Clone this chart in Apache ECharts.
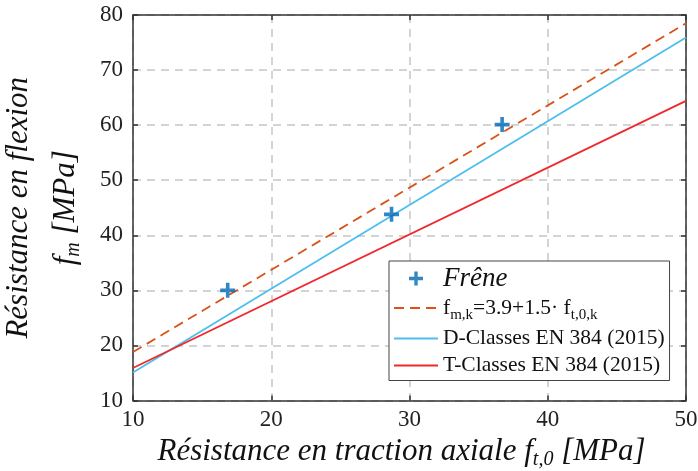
<!DOCTYPE html>
<html><head><meta charset="utf-8">
<script src="https://cdn.jsdelivr.net/npm/echarts@6/dist/echarts.min.js"></script>
<style>html,body{margin:0;padding:0;background:#fff}#c{width:698px;height:471px}</style>
</head><body><div id="c"></div>
<script>
// Data
const xTicks = [10, 20, 30, 40, 50];
const yTicks = [10, 20, 30, 40, 50, 60, 70, 80];
const freneX = [16.85, 28.7, 36.7];
const freneY = [30.0, 43.8, 60.1];
const fmkX = [10, 50];
const fmkY = [18.8, 78.5];
const dClassX = [10, 50];
const dClassY = [15.1, 75.9];
const tClassX = [10, 50];
const tClassY = [15.9, 64.4];

const zip = (a, b) => a.map((v, i) => [v, b[i]]);
const serif = 'Liberation Serif';
const plus = 'path://M-1.2,-5L1.2,-5L1.2,-1.2L5,-1.2L5,1.2L1.2,1.2L1.2,5L-1.2,5L-1.2,1.2L-5,1.2L-5,-1.2L-1.2,-1.2Z';

const chart = echarts.init(document.getElementById('c'), null, {renderer: 'canvas'});
const axisLine = {show: true, lineStyle: {color: '#333', width: 1.5}};
const tick = {show: true, inside: true, length: 5, lineStyle: {color: '#333', width: 1.5}};
const grid = {show: true, lineStyle: {color: '#c6c6c6', width: 1.5, type: [8, 6]}};
chart.setOption({
  animation: false,
  grid: {left: 133, right: 12, top: 15, bottom: 70.5, containLabel: false, outerBoundsMode: 'none'},
  xAxis: [{
    type: 'value', min: 10, max: 50, interval: 10,
    axisLine, axisTick: tick, splitLine: grid,
    axisLabel: {fontFamily: serif, fontSize: 23, color: '#222', margin: 8},
    name: 'Résistance en traction axiale f{sub|t,0} [MPa]',
    nameLocation: 'middle', nameGap: 30,
    nameTextStyle: {fontFamily: serif, fontStyle: 'italic', fontSize: 31, color: '#111', padding: [0, 16, 0, 0],
      rich: {sub: {fontFamily: serif, fontStyle: 'italic', fontSize: 20, color: '#111', padding: [16, 0, 0, 0]}}}
  }, {
    type: 'value', min: 10, max: 50, interval: 10, position: 'top',
    axisLine, axisTick: tick, axisLabel: {show: false}, splitLine: {show: false}
  }],
  yAxis: [{
    type: 'value', min: 10, max: 80, interval: 10,
    axisLine, axisTick: tick, splitLine: grid,
    axisLabel: {fontFamily: serif, fontSize: 23, color: '#222', margin: 10},
    name: 'Résistance en flexion\nf{sub|m} [MPa]',
    nameLocation: 'middle', nameGap: 34, nameRotate: 90,
    nameTextStyle: {fontFamily: serif, fontStyle: 'italic', fontSize: 31, color: '#111', lineHeight: 47,
      rich: {sub: {fontFamily: serif, fontStyle: 'italic', fontSize: 20, color: '#111', padding: [16, 0, 0, 0], lineHeight: 47}}}
  }, {
    type: 'value', min: 10, max: 80, interval: 10, position: 'right',
    axisLine, axisTick: tick, axisLabel: {show: false}, splitLine: {show: false}
  }],
  legend: {
    orient: 'vertical', left: 389, top: 261,
    backgroundColor: '#fff', borderColor: '#444', borderWidth: 1,
    padding: [4, 5, 4, 4], itemGap: 5, itemWidth: 44, itemHeight: 14,
    textStyle: {fontFamily: serif, fontSize: 21.5, color: '#111',
      rich: {
        it: {fontFamily: serif, fontStyle: 'italic', fontSize: 27, color: '#111'},
        sub: {fontFamily: serif, fontSize: 15, color: '#111', padding: [14, 0, 0, 0]},
        n: {fontFamily: serif, fontSize: 21.5, color: '#111'}
      }},
    data: [
      {name: 'Frêne'},
      {name: 'fmk', itemStyle: {opacity: 0}},
      {name: 'D-Classes EN 384 (2015)', itemStyle: {opacity: 0}},
      {name: 'T-Classes EN 384 (2015)', itemStyle: {opacity: 0}}
    ],
    formatter: function (name) {
      if (name === 'Frêne') return '{it|Frêne}';
      if (name === 'fmk') return '{n|f}{sub|m,k}{n|=3.9+1.5· f}{sub|t,0,k}';
      return name;
    }
  },
  series: [
    {name: 'Frêne', type: 'scatter', data: zip(freneX, freneY), symbol: plus, symbolSize: 15,
      itemStyle: {color: '#0068B5'}, z: 5},
    {name: 'fmk', type: 'line', data: zip(fmkX, fmkY), showSymbol: false, symbol: 'none',
      lineStyle: {color: '#D95319', width: 1.8, type: [10, 6]}, itemStyle: {color: '#D95319'}},
    {name: 'D-Classes EN 384 (2015)', type: 'line', data: zip(dClassX, dClassY), showSymbol: false, symbol: 'none',
      lineStyle: {color: '#4DBEEE', width: 1.8}, itemStyle: {color: '#4DBEEE'}},
    {name: 'T-Classes EN 384 (2015)', type: 'line', data: zip(tClassX, tClassY), showSymbol: false, symbol: 'none',
      lineStyle: {color: '#F0282D', width: 1.8}, itemStyle: {color: '#F0282D'}}
  ]
});
</script>
</body></html>
